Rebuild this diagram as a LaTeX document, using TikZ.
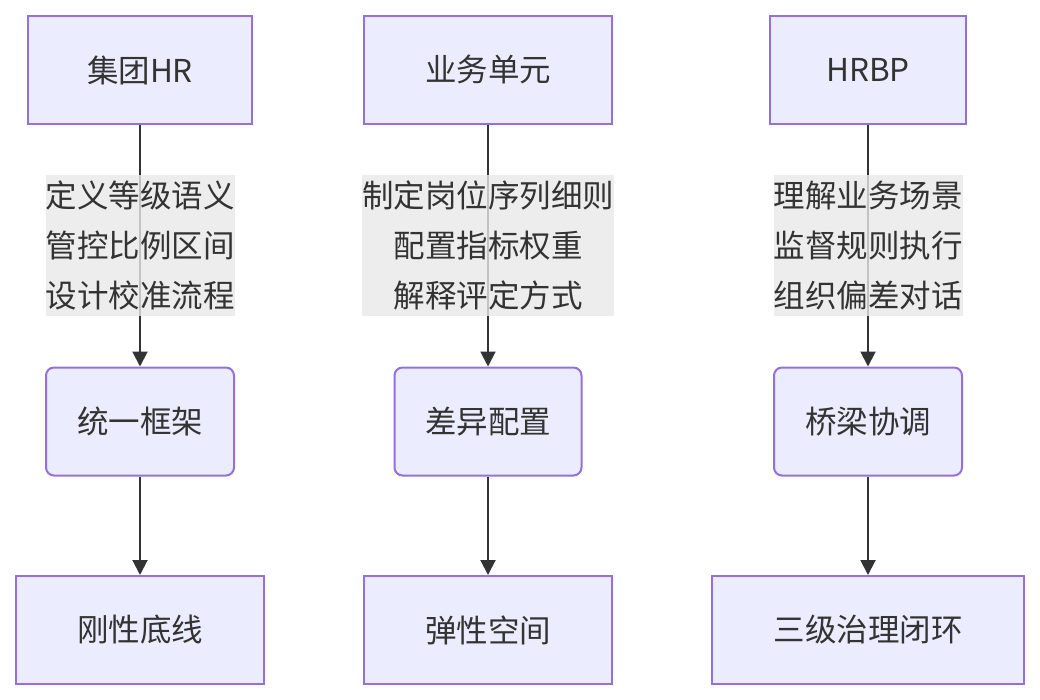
\documentclass[tikz,border=0pt]{standalone}
\usepackage{fontspec}
\setmainfont{Noto Sans CJK SC}
\usetikzlibrary{arrows.meta}
\definecolor{boxfill}{HTML}{ECECFF}
\definecolor{boxline}{HTML}{9370DB}
\definecolor{ink}{HTML}{333333}
\definecolor{lblfill}{HTML}{E8E8E8}
\begin{document}
\begin{tikzpicture}[x=1pt, y=-1pt, font=\fontsize{31.5}{50}\selectfont, text=ink,
  role/.style={draw=boxline, line width=2pt, fill=boxfill, inner sep=0pt,
               minimum width=#1, minimum height=108pt, align=center},
  mode/.style={role=#1, rounded corners=8pt},
  lbl/.style={fill=lblfill, fill opacity=0.8, text opacity=1, inner xsep=0pt,
              inner ysep=6pt, align=center},
  flow/.style={draw=ink, line width=2pt, -{Triangle[length=15pt,width=15pt]}}
]
  \useasboundingbox (0,0) rectangle (1040,700);
  % top row
  \node[role=224pt] (hr)   at (140,70)  {集团HR};
  \node[role=248pt] (bu)   at (488,70)  {业务单元};
  \node[role=196pt] (hrbp) at (868,70)  {HRBP};
  % middle row
  \node[mode=188pt] (frame)  at (140,421.5) {统一框架};
  \node[mode=187pt] (config) at (488,421.5) {差异配置};
  \node[mode=188pt] (bridge) at (868,421.5) {桥梁协调};
  % bottom row
  \node[role=248pt] (floor) at (140,630) {刚性底线};
  \node[role=248pt] (space) at (488,630) {弹性空间};
  \node[role=312pt] (loop)  at (868,630) {三级治理闭环};
  \draw[flow] (hr) -- (frame);
  \draw[flow] (bu) -- (config);
  \draw[flow] (hrbp) -- (bridge);
  \draw[flow] (frame) -- (floor);
  \draw[flow] (config) -- (space);
  \draw[flow] (bridge) -- (loop);
  \node[lbl] (l1) at (140,245.5) {定义等级语义\\管控比例区间\\设计校准流程};
  \node[lbl] (l2) at (488,245.5) {制定岗位序列细则\\配置指标权重\\解释评定方式};
  \node[lbl] (l3) at (868,245.5) {理解业务场景\\监督规则执行\\组织偏差对话};
\end{tikzpicture}
\end{document}
